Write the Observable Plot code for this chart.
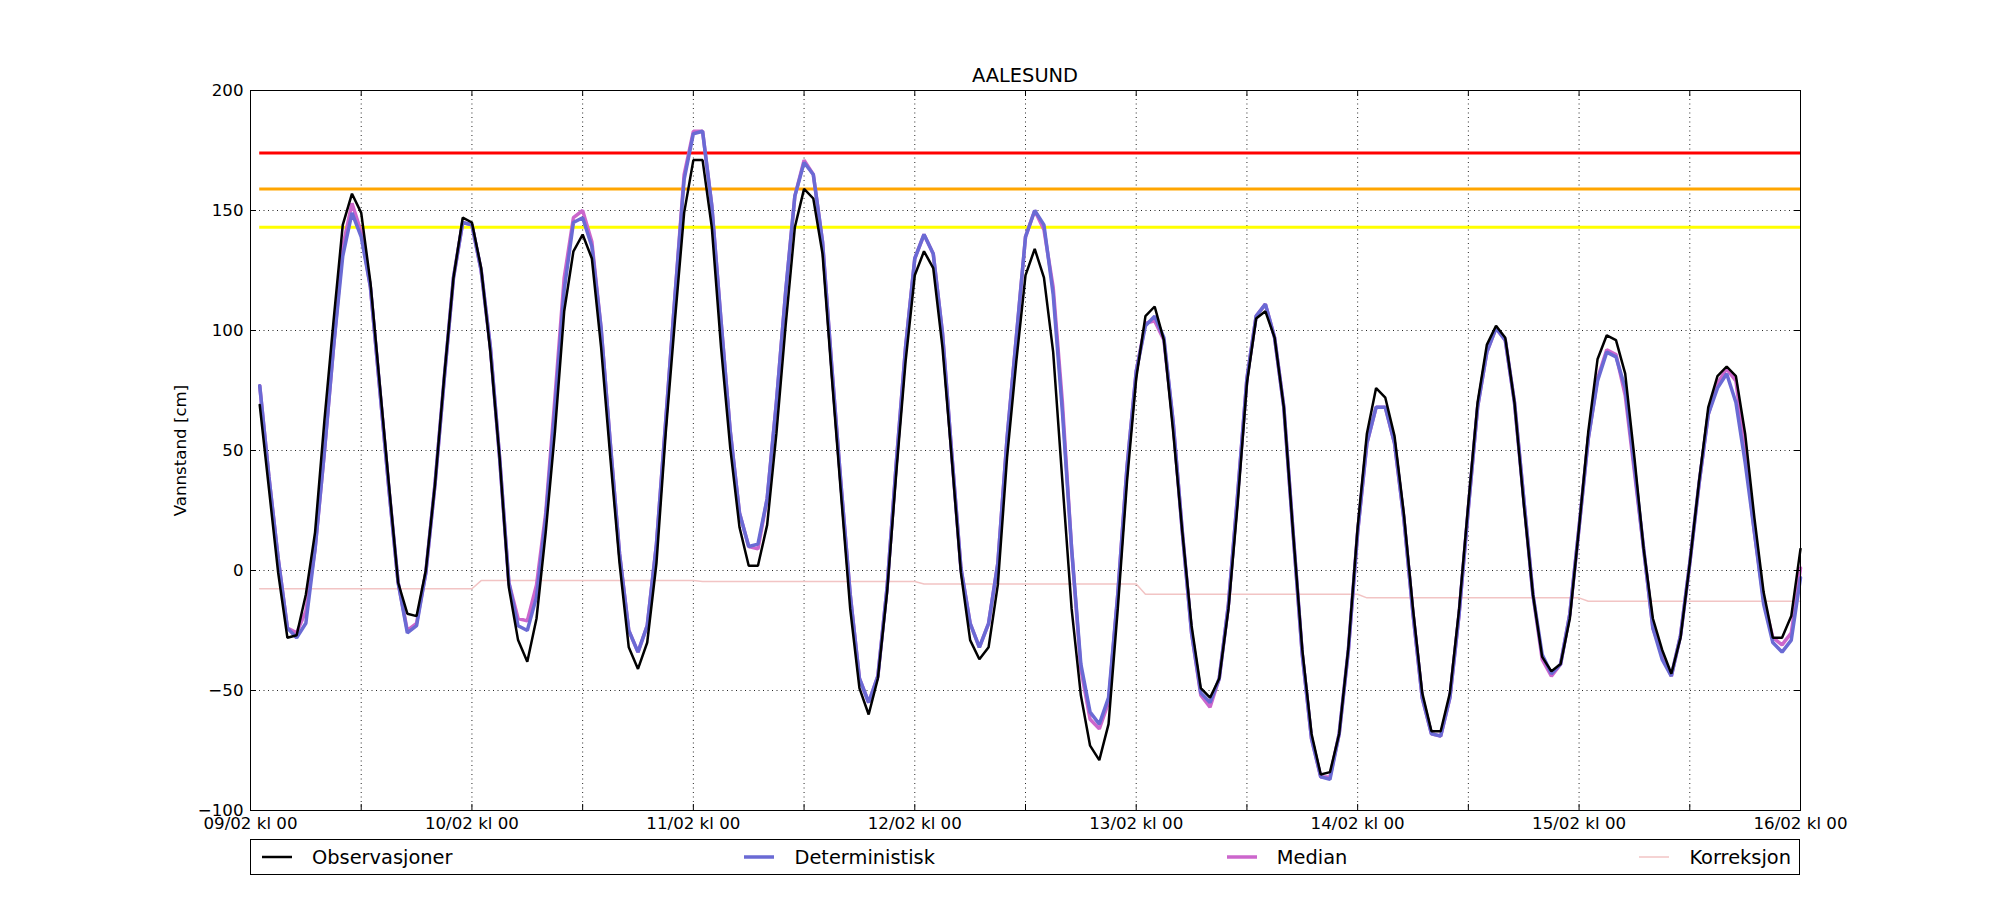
<!DOCTYPE html>
<html>
<head>
<meta charset="utf-8">
<script src="https://cdn.jsdelivr.net/npm/d3@7"></script>
<script src="https://cdn.jsdelivr.net/npm/@observablehq/plot@0.6"></script>
<style>
  html, body { margin: 0; padding: 0; background: #fff; }
  #wrap { position: relative; width: 2000px; height: 900px; font-family: "DejaVu Sans", sans-serif; }
  #title { position: absolute; left: 250px; width: 1550px; top: 66px; text-align: center; font-size: 19.4px; line-height: 1; color: #000; }
  #chart { position: absolute; left: 0; top: 0; }
  #legend { position: absolute; left: 250px; top: 839px; width: 1550px; height: 36px; box-sizing: border-box;
            border: 1px solid #000; display: flex; justify-content: space-between; align-items: center;
            padding: 0 8px 0 11px; font-size: 19.4px; }
  .item { display: flex; align-items: center; }
  .item svg { margin-right: 20px; }
</style>
</head>
<body>
<div id="wrap">
  <div id="chart"></div>
  <div id="title">AALESUND</div>
  <div id="legend"></div>
</div>
<script>
// ---- data (hourly, 09/02 01:00 .. 16/02 00:00) ----
const startTime = "2020-02-09T01:00:00Z";
const domainStart = "2020-02-09T00:00:00Z";
const domainEnd = "2020-02-16T00:00:00Z";

const observasjoner = [
  69, 34, -1, -28, -27, -10, 16, 62, 104, 144, 157, 149, 120, 78, 36, -5, -18, -19, 0, 36, 81, 122, 147, 145,
  126, 91, 47, -7, -29, -38, -20, 16, 58, 108, 133, 140, 130, 93, 47, 3, -32, -41, -30, 3, 57, 104, 149, 171,
  171, 143, 93, 51, 18, 2, 2, 19, 57, 102, 143, 159, 155, 132, 81, 32, -16, -49, -60, -45, -9, 41, 87, 123,
  133, 126, 93, 47, -1, -29, -37, -32, -6, 47, 87, 123, 134, 122, 91, 37, -16, -52, -73, -79, -64, -16, 37, 80,
  106, 110, 96, 58, 16, -23, -49, -53, -45, -16, 28, 78, 105, 108, 97, 68, 16, -33, -68, -85, -84, -68, -32, 18,
  57, 76, 72, 56, 24, -16, -51, -67, -67, -51, -16, 28, 70, 94, 102, 97, 70, 28, -10, -36, -42, -39, -20, 18,
  58, 88, 98, 96, 82, 47, 9, -20, -33, -43, -28, 3, 37, 68, 81, 85, 81, 57, 22, -9, -28, -28, -19, 9
];

const deterministisk = [
  77, 39, 5, -24, -28, -22, 9, 49, 93, 131, 149, 139, 118, 76, 34, -5, -26, -23, -1, 36, 80, 122, 145, 144,
  125, 93, 47, -5, -23, -25, -11, 22, 68, 117, 145, 147, 135, 101, 53, 7, -25, -34, -23, 11, 62, 114, 163, 182,
  183, 152, 104, 58, 24, 10, 11, 30, 70, 116, 156, 170, 165, 137, 85, 36, -10, -45, -55, -44, -7, 45, 93, 130,
  140, 132, 99, 49, 1, -22, -32, -22, 3, 55, 97, 139, 150, 144, 115, 66, 9, -39, -59, -64, -53, -10, 43, 83,
  102, 106, 97, 62, 16, -26, -51, -55, -45, -14, 32, 80, 106, 111, 97, 68, 16, -35, -70, -86, -87, -68, -33, 16,
  53, 68, 68, 53, 22, -18, -53, -68, -69, -53, -18, 26, 68, 91, 101, 96, 70, 30, -10, -35, -43, -39, -18, 18,
  55, 79, 91, 89, 76, 43, 9, -24, -37, -44, -27, 3, 36, 65, 76, 82, 70, 45, 16, -14, -30, -34, -29, -3
];

const median = [
  77, 39, 5, -24, -26, -17, 9, 49, 93, 135, 153, 141, 118, 76, 34, -5, -25, -22, -1, 36, 80, 122, 145, 144,
  125, 93, 47, -5, -20, -21, -6, 24, 72, 122, 147, 150, 137, 101, 53, 7, -25, -34, -23, 11, 62, 114, 165, 183,
  183, 152, 104, 58, 24, 10, 9, 30, 70, 116, 156, 171, 165, 137, 85, 36, -10, -45, -55, -44, -7, 45, 93, 130,
  140, 132, 99, 49, 1, -22, -32, -22, 3, 55, 97, 139, 150, 142, 118, 70, 9, -41, -62, -66, -55, -10, 43, 83,
  103, 104, 96, 62, 16, -26, -52, -57, -45, -14, 32, 80, 106, 111, 97, 68, 16, -35, -70, -86, -86, -68, -33, 16,
  53, 68, 68, 53, 22, -18, -53, -68, -69, -53, -18, 26, 68, 91, 101, 96, 70, 30, -10, -37, -44, -39, -18, 18,
  55, 80, 92, 90, 73, 41, 9, -24, -35, -44, -27, 3, 36, 65, 78, 84, 79, 50, 16, -12, -28, -31, -26, 1
];

const korreksjon = [
  -7.6, -7.6, -7.6, -7.6, -7.6, -7.6, -7.6, -7.6, -7.6, -7.6, -7.6, -7.6, -7.6, -7.6, -7.6, -7.6, -7.6, -7.6, -7.6, -7.6, -7.6, -7.6, -7.6, -7.6,
  -4.2, -4.2, -4.2, -4.2, -4.2, -4.2, -4.2, -4.2, -4.2, -4.2, -4.2, -4.2, -4.2, -4.2, -4.2, -4.2, -4.2, -4.2, -4.2, -4.2, -4.2, -4.2, -4.2, -4.2,
  -4.6, -4.6, -4.6, -4.6, -4.6, -4.6, -4.6, -4.6, -4.6, -4.6, -4.6, -4.6, -4.6, -4.6, -4.6, -4.6, -4.6, -4.6, -4.6, -4.6, -4.6, -4.6, -4.6, -4.6,
  -5.6, -5.6, -5.6, -5.6, -5.6, -5.6, -5.6, -5.6, -5.6, -5.6, -5.6, -5.6, -5.6, -5.6, -5.6, -5.6, -5.6, -5.6, -5.6, -5.6, -5.6, -5.6, -5.6, -5.6,
  -9.9, -9.9, -9.9, -9.9, -9.9, -9.9, -9.9, -9.9, -9.9, -9.9, -9.9, -9.9, -9.9, -9.9, -9.9, -9.9, -9.9, -9.9, -9.9, -9.9, -9.9, -9.9, -9.9, -9.9,
  -11.4, -11.4, -11.4, -11.4, -11.4, -11.4, -11.4, -11.4, -11.4, -11.4, -11.4, -11.4, -11.4, -11.4, -11.4, -11.4, -11.4, -11.4, -11.4, -11.4, -11.4, -11.4, -11.4, -11.4,
  -12.8, -12.8, -12.8, -12.8, -12.8, -12.8, -12.8, -12.8, -12.8, -12.8, -12.8, -12.8, -12.8, -12.8, -12.8, -12.8, -12.8, -12.8, -12.8, -12.8, -12.8, -12.8, -12.8, -12.8
];

const thresholdValues = [174, 159, 143];
const thresholdColors = ["#ff0000", "#ffa500", "#ffff00"];
const yTicks = [-100, -50, 0, 50, 100, 150, 200];

const seriesNames = ["Observasjoner", "Deterministisk", "Median", "Korreksjon"];
const seriesColors = ["#000000", "#6a6ad4", "#cc66cc", "#f2c4c4"];
const seriesWidths = [2.5, 3.5, 3.5, 1.5];

// ---- derived ----
const t0 = new Date(startTime);
const times = observasjoner.map((_, i) => d3.utcHour.offset(t0, i));
const xDomain = [new Date(domainStart), new Date(domainEnd)];
const xTicks = d3.utcHour.every(12).range(xDomain[0], d3.utcHour.offset(xDomain[1], 1));
const fmt = d3.utcFormat("%d/%m kl %H");
const thresholds = thresholdValues.map((v, i) => ({v, c: thresholdColors[i]}));

const W = 2000, H = 840, ML = 250, MR = 200, MT = 90, MB = 30;
const innerH = H - MT - MB, innerW = W - ML - MR, TL = 6;

const lineOf = (arr, k) => Plot.line(arr, {
  x: (d, i) => times[i], y: d => d,
  stroke: seriesColors[k], strokeWidth: seriesWidths[k], strokeLinejoin: "miter"
});

const chart = Plot.plot({
  width: W, height: H,
  marginLeft: ML, marginRight: MR, marginTop: MT, marginBottom: MB,
  style: {fontFamily: "DejaVu Sans", fontSize: "16.67px", background: "white", color: "black"},
  x: {type: "utc", domain: xDomain},
  y: {domain: [-100, 200]},
  marks: [
    Plot.gridX(xTicks, {stroke: "black", strokeOpacity: 0.85, strokeDasharray: "1,3.5", strokeWidth: 1}),
    Plot.gridY(yTicks, {stroke: "black", strokeOpacity: 0.85, strokeDasharray: "1,3.5", strokeWidth: 1}),
    Plot.ruleY(thresholds, {y: "v", x1: times[0], x2: times[times.length - 1], stroke: "c", strokeWidth: 3}),
    lineOf(korreksjon, 3),
    lineOf(median, 2),
    lineOf(deterministisk, 1),
    lineOf(observasjoner, 0),
    Plot.tickX(xTicks, {x: d => d, insetTop: innerH - TL, stroke: "black"}),
    Plot.tickX(xTicks, {x: d => d, insetBottom: innerH - TL, stroke: "black"}),
    Plot.tickY(yTicks, {y: d => d, insetRight: innerW - TL, stroke: "black"}),
    Plot.tickY(yTicks, {y: d => d, insetLeft: innerW - TL, stroke: "black"}),
    Plot.axisX({ticks: xTicks, tickSize: 0, tickPadding: 7, tickFormat: d => d.getUTCHours() === 0 ? fmt(d) : "", label: null, fontSize: 16.67}),
    Plot.axisY({ticks: yTicks, tickSize: 0, tickPadding: 7, label: "Vannstand [cm]", labelAnchor: "center", labelArrow: "none", labelOffset: 76, fontSize: 16.67}),
    Plot.frame({stroke: "black", strokeWidth: 1})
  ]
});
document.getElementById("chart").appendChild(chart);

// ---- legend ----
const legend = document.getElementById("legend");
seriesNames.forEach((name, k) => {
  const item = document.createElement("div");
  item.className = "item";
  item.innerHTML = `<svg width="30" height="10"><line x1="0" x2="30" y1="5" y2="5" stroke="${seriesColors[k]}" stroke-width="${seriesWidths[k]}"/></svg><span>${name}</span>`;
  legend.appendChild(item);
});
</script>
</body>
</html>
